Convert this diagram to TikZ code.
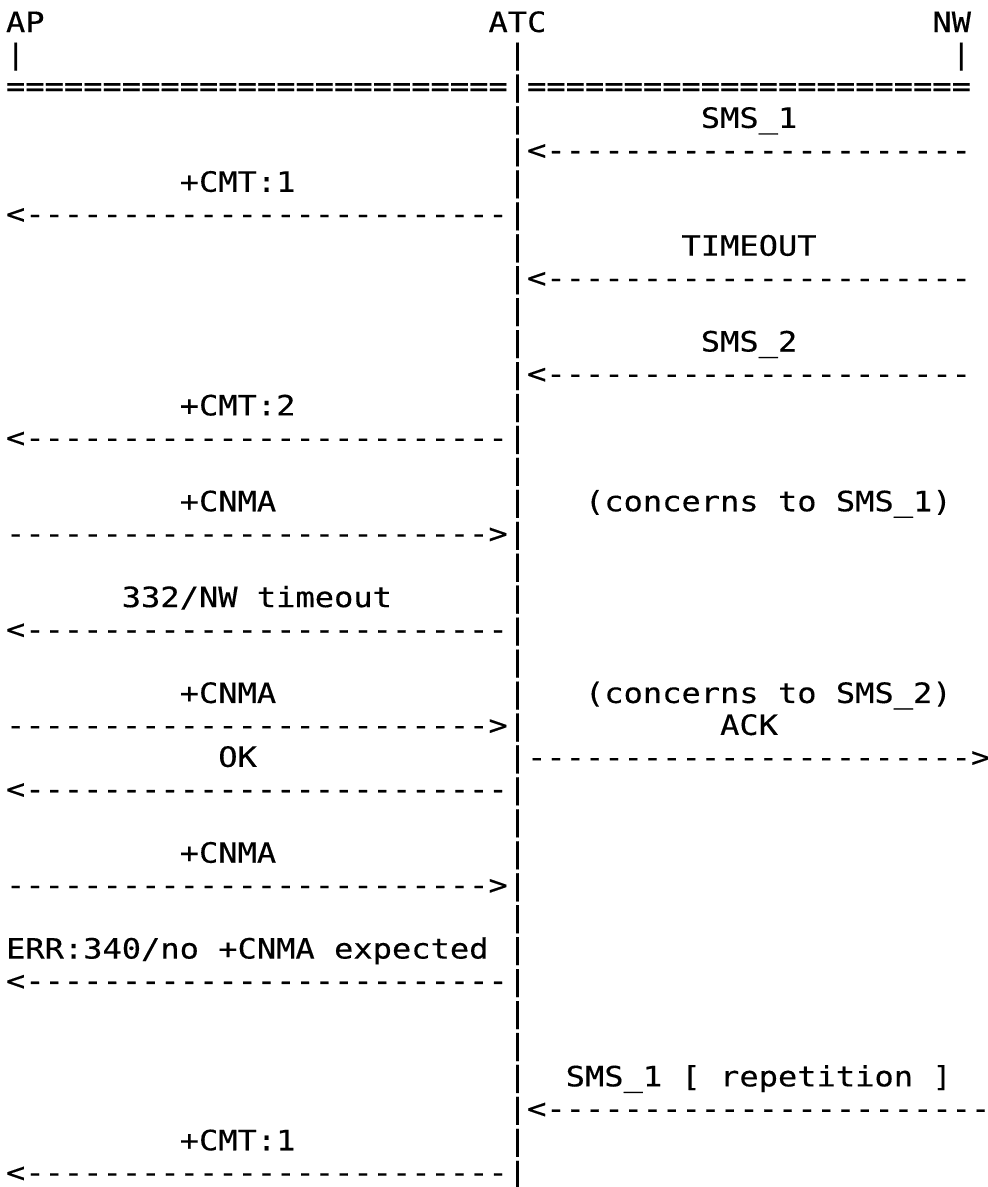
\documentclass[tikz,border=0pt]{standalone}
\usepackage{fontspec}
\setmonofont{DejaVu Sans Mono}[FakeStretch=1.1449,FakeBold=0.3]
\ExplSyntaxOn
\cs_new_eq:NN \Rep \prg_replicate:nn
\ExplSyntaxOff
\tikzset{asc/.style={anchor=base west,inner sep=0pt,outer sep=0pt,
  font=\ttfamily\fontsize{28}{32}\selectfont,text=black}}
% name, column, line, text
\newcommand\ascii[4]{\node[asc] (#1) at ({6+#2*19.3},{32+(#3-1)*31.95}) {#4};}
\begin{document}
\begin{tikzpicture}[x=1pt,y=-1pt]
\fill[white] (0,0) rectangle (988,1187);
\useasboundingbox (0,0) rectangle (988,1187);
% header
\ascii{ap}{0}{1}{AP}
\ascii{atc}{25}{1}{ATC}
\ascii{nw}{48}{1}{NW}
\ascii{apbar}{0}{2}{|}
\ascii{nwbar}{49}{2}{|}
\ascii{eqL}{0}{3}{\Rep{26}{=}}
\ascii{eqR}{27}{3}{\Rep{23}{=}}
% ATC lifeline
\foreach \k in {2,...,37} {\ascii{atc\k}{26}{\k}{|}}
% messages
\ascii{lsms1}{36}{4}{SMS\_1}
\ascii{asms1}{27}{5}{<\Rep{22}{-}}
\ascii{lcmt1}{9}{6}{+CMT:1}
\ascii{acmt1}{0}{7}{<\Rep{25}{-}}
\ascii{ltimeout}{35}{8}{TIMEOUT}
\ascii{atimeout}{27}{9}{<\Rep{22}{-}}
\ascii{lsms2}{36}{11}{SMS\_2}
\ascii{asms2}{27}{12}{<\Rep{22}{-}}
\ascii{lcmt2}{9}{13}{+CMT:2}
\ascii{acmt2}{0}{14}{<\Rep{25}{-}}
\ascii{lcnma1}{9}{16}{+CNMA}
\ascii{lconc1}{30}{16}{(concerns to SMS\_1)}
\ascii{acnma1}{0}{17}{\Rep{25}{-}>}
\ascii{ltimeoutap}{6}{19}{332/NW timeout}
\ascii{atimeoutap}{0}{20}{<\Rep{25}{-}}
\ascii{lcnma2}{9}{22}{+CNMA}
\ascii{lconc2}{30}{22}{(concerns to SMS\_2)}
\ascii{acnma2}{0}{23}{\Rep{25}{-}>}
\ascii{lack}{37}{23}{ACK}
\ascii{lok}{11}{24}{OK}
\ascii{aack}{27}{24}{\Rep{23}{-}>}
\ascii{aok}{0}{25}{<\Rep{25}{-}}
\ascii{lcnma3}{9}{27}{+CNMA}
\ascii{acnma3}{0}{28}{\Rep{25}{-}>}
\ascii{lerr}{0}{30}{ERR:340/no +CNMA expected}
\ascii{aerr}{0}{31}{<\Rep{25}{-}}
\ascii{lrep}{29}{34}{SMS\_1 [ repetition ]}
\ascii{arep}{27}{35}{<\Rep{23}{-}}
\ascii{lcmt3}{9}{36}{+CMT:1}
\ascii{acmt3}{0}{37}{<\Rep{25}{-}}
\end{tikzpicture}
\end{document}
